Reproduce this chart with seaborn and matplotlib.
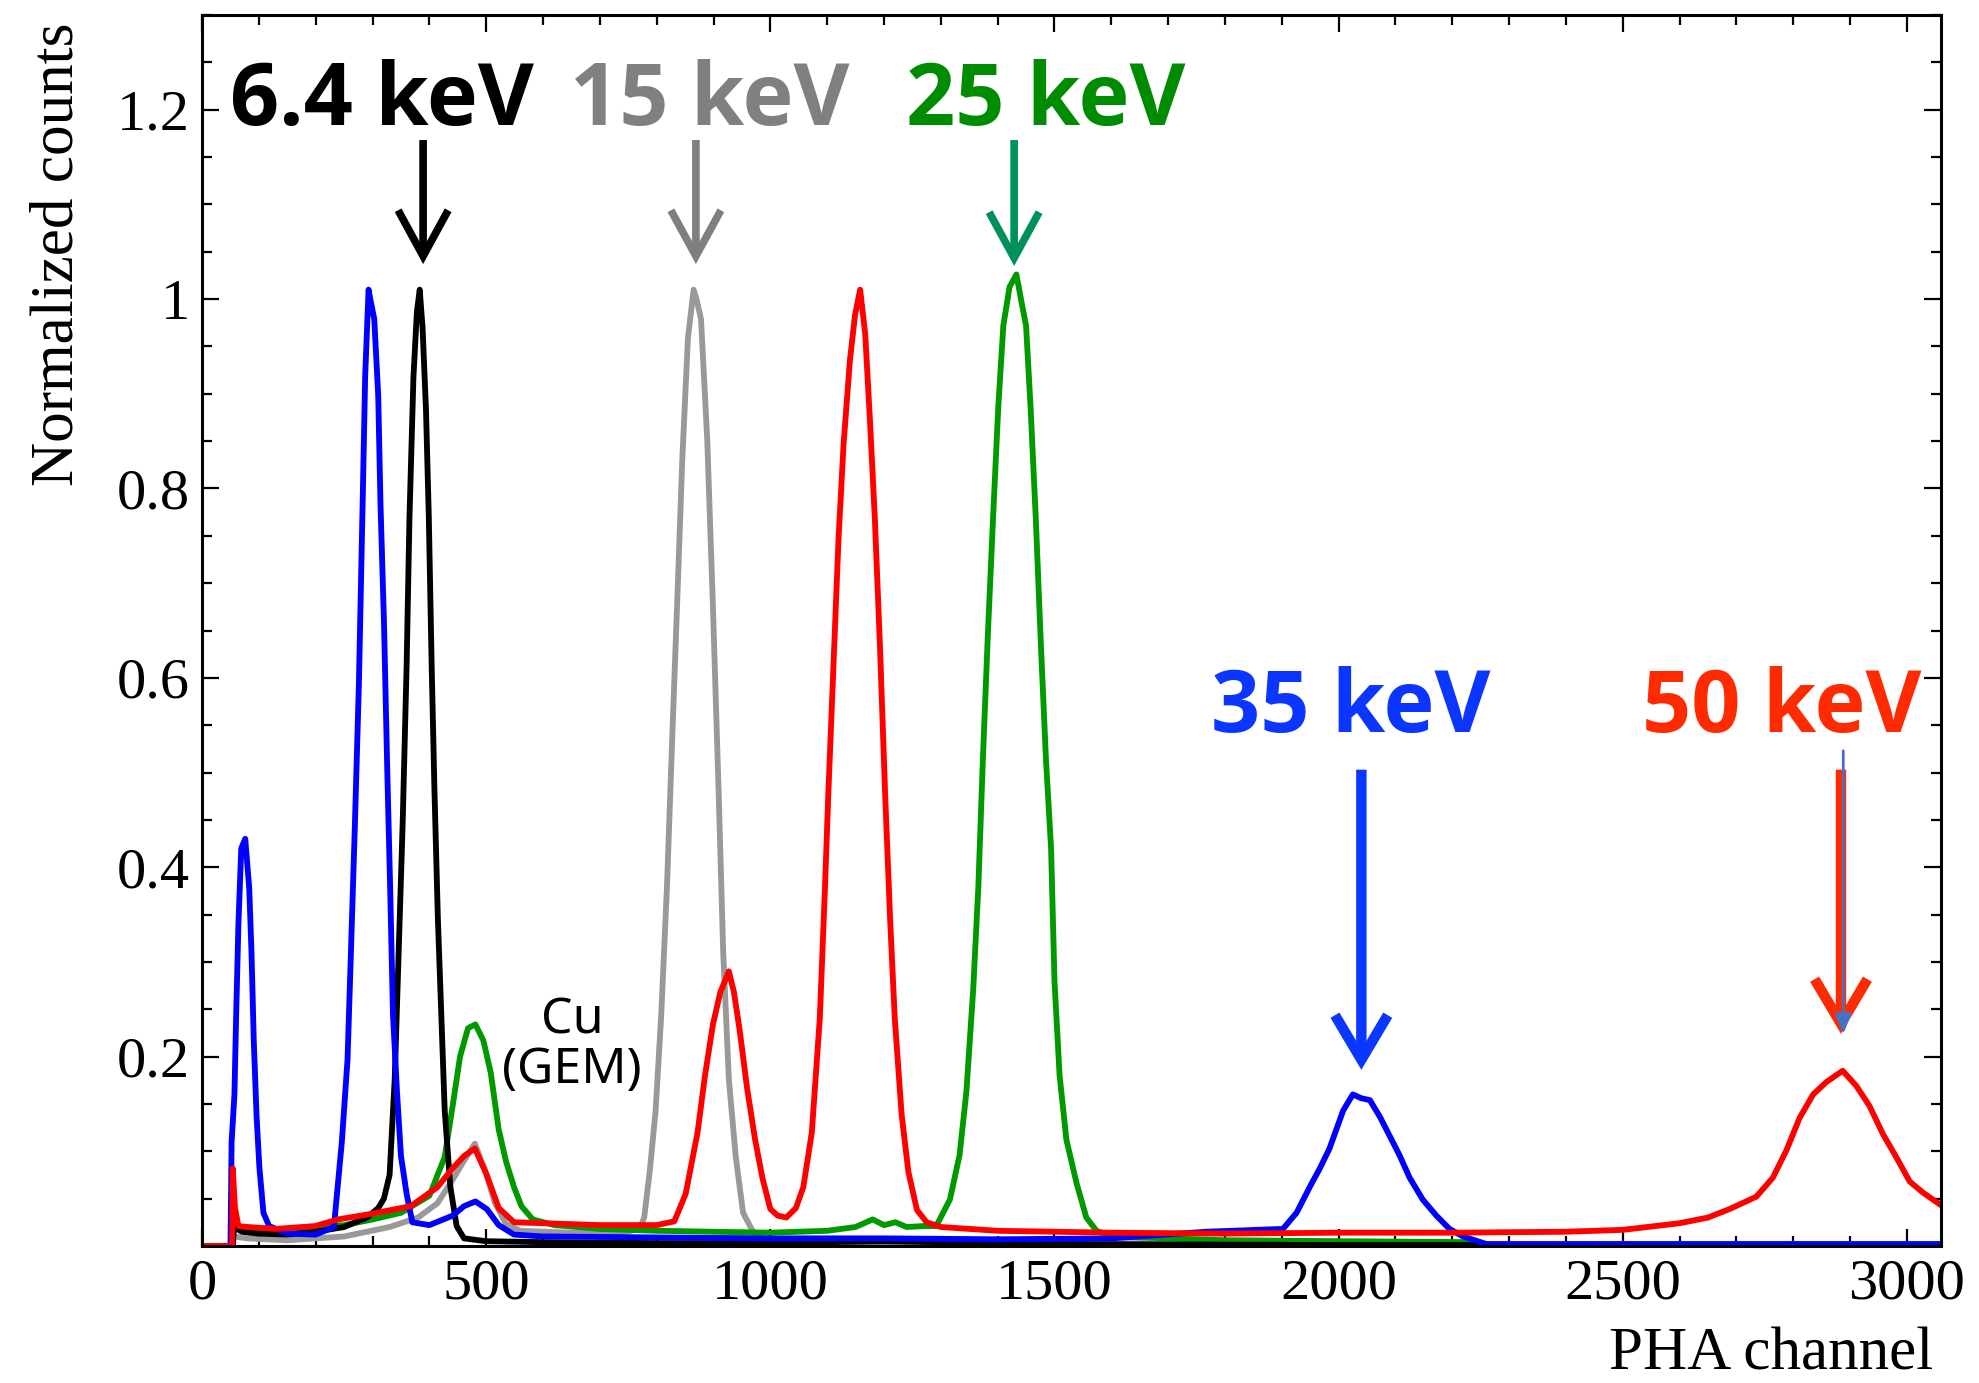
import matplotlib
matplotlib.use("Agg")
import matplotlib.pyplot as plt
from matplotlib.ticker import MultipleLocator
from matplotlib import font_manager
import numpy as np
import pandas as pd
import seaborn as sns

# ---------------- data ----------------
ch_64 = [0, 54, 56, 70, 100, 150, 200, 250, 290, 310, 320, 330, 339, 346, 353, 360, 365,
         372, 378, 383, 388, 394, 399, 404, 409, 415, 421, 427, 437, 448, 461, 500, 600,
         800, 1000, 1200, 1500, 2000, 3060]
val_64 = [0, 0, 0.02, 0.015, 0.013, 0.012, 0.015, 0.02, 0.03, 0.04, 0.05, 0.075, 0.176,
          0.311, 0.446, 0.614, 0.77, 0.918, 0.986, 1.01, 0.97, 0.884, 0.77, 0.614, 0.48,
          0.345, 0.244, 0.143, 0.062, 0.021, 0.008, 0.005, 0.004, 0.003, 0.003, 0.005,
          0.002, 0.001, 0.001]

ch_15 = [0, 54, 56, 80, 150, 250, 330, 380, 414, 441, 461, 480, 498, 515, 535, 560, 650,
         740, 770, 778, 788, 798, 808, 818, 828, 837, 845, 855, 865, 870, 878, 889, 899,
         909, 917, 927, 939, 952, 973, 1000, 1100, 1500, 2000, 3060]
val_15 = [0, 0, 0.01, 0.008, 0.006, 0.01, 0.02, 0.03, 0.045, 0.07, 0.09, 0.108, 0.08,
          0.046, 0.023, 0.016, 0.014, 0.014, 0.018, 0.03, 0.08, 0.142, 0.244, 0.378,
          0.547, 0.695, 0.83, 0.959, 1.01, 1.0, 0.979, 0.851, 0.675, 0.48, 0.311, 0.176,
          0.095, 0.035, 0.011, 0.006, 0.004, 0.003, 0.002, 0.002]

ch_25 = [0, 54, 56, 80, 150, 250, 300, 350, 400, 427, 441, 454, 468, 481, 495, 508, 522,
         535, 549, 562, 582, 620, 700, 800, 900, 1000, 1100, 1150, 1180, 1200, 1220, 1240,
         1270, 1292, 1316, 1333, 1345, 1357, 1366, 1374, 1383, 1392, 1401, 1410, 1421,
         1433, 1441, 1450, 1458, 1467, 1476, 1485, 1494, 1500, 1509, 1521, 1539, 1556,
         1574, 1600, 1800, 2000, 2240, 2250, 3060]
val_25 = [0, 0, 0.02, 0.018, 0.018, 0.022, 0.028, 0.035, 0.053, 0.094, 0.148, 0.2, 0.23,
          0.234, 0.217, 0.183, 0.123, 0.089, 0.062, 0.042, 0.028, 0.022, 0.018, 0.016,
          0.015, 0.014, 0.016, 0.02, 0.028, 0.022, 0.025, 0.02, 0.021, 0.021, 0.049,
          0.096, 0.163, 0.271, 0.379, 0.514, 0.649, 0.77, 0.885, 0.972, 1.013, 1.026,
          1.0, 0.972, 0.885, 0.77, 0.636, 0.514, 0.42, 0.28, 0.18, 0.112, 0.066, 0.03,
          0.016, 0.01, 0.006, 0.005, 0.004, 0.0, 0.0]

ch_35 = [0, 50, 52, 57, 60, 64, 69, 76, 83, 87, 91, 96, 101, 108, 118, 150, 200, 232, 246,
         256, 262, 269, 276, 283, 287, 293, 296, 303, 310, 314, 320, 326, 331, 336, 343,
         350, 360, 370, 400, 441, 461, 481, 501, 522, 549, 600, 800, 1000, 1200, 1400,
         1600, 1767, 1902, 1926, 1949, 1967, 1984, 1996, 2008, 2025, 2040, 2055, 2073,
         2090, 2107, 2125, 2148, 2172, 2195, 2219, 2260, 3060]
val_35 = [0, 0, 0.11, 0.16, 0.244, 0.34, 0.42, 0.43, 0.378, 0.31, 0.217, 0.136, 0.082,
          0.035, 0.021, 0.013, 0.012, 0.02, 0.11, 0.197, 0.311, 0.446, 0.594, 0.797,
          0.918, 1.01, 1.0, 0.979, 0.898, 0.783, 0.662, 0.5, 0.378, 0.244, 0.163, 0.095,
          0.055, 0.025, 0.022, 0.032, 0.042, 0.047, 0.039, 0.022, 0.012, 0.01, 0.009,
          0.008, 0.008, 0.007, 0.008, 0.015, 0.018, 0.035, 0.062, 0.082, 0.103, 0.123,
          0.143, 0.16, 0.156, 0.154, 0.136, 0.116, 0.096, 0.072, 0.049, 0.032, 0.018,
          0.01, 0.002, 0.002]

ch_50 = [0, 53, 54, 58, 64, 80, 131, 199, 239, 299, 367, 414, 441, 461, 480, 501, 522,
         549, 600, 700, 800, 831, 851, 872, 885, 899, 912, 927, 936, 946, 959, 973, 986,
         1000, 1013, 1028, 1045, 1058, 1073, 1087, 1096, 1102, 1111, 1120, 1129, 1140,
         1149, 1158, 1167, 1175, 1184, 1193, 1202, 1211, 1219, 1231, 1243, 1258, 1275,
         1300, 1400, 1600, 1800, 2000, 2200, 2400, 2500, 2600, 2650, 2688, 2735, 2764,
         2788, 2811, 2835, 2858, 2887, 2911, 2934, 2958, 2982, 3005, 3029, 3060]
val_50 = [0, 0, 0.082, 0.04, 0.021, 0.02, 0.018, 0.021, 0.028, 0.034, 0.042, 0.062,
          0.082, 0.095, 0.103, 0.075, 0.04, 0.025, 0.024, 0.022, 0.022, 0.026, 0.055,
          0.12, 0.18, 0.234, 0.268, 0.29, 0.268, 0.228, 0.167, 0.113, 0.072, 0.039,
          0.032, 0.03, 0.04, 0.062, 0.12, 0.24, 0.376, 0.477, 0.612, 0.747, 0.848,
          0.935, 0.983, 1.01, 0.963, 0.875, 0.767, 0.632, 0.477, 0.342, 0.24, 0.139,
          0.078, 0.038, 0.025, 0.02, 0.016, 0.014, 0.013, 0.014, 0.014, 0.015, 0.017,
          0.024, 0.03, 0.039, 0.052, 0.072, 0.101, 0.135, 0.16, 0.173, 0.185, 0.169,
          0.148, 0.118, 0.093, 0.068, 0.056, 0.043]

series_names = ["15 keV", "25 keV", "6.4 keV", "35 keV", "50 keV"]   # draw order
series_ch = [ch_15, ch_25, ch_64, ch_35, ch_50]
series_val = [val_15, val_25, val_64, val_35, val_50]
line_colors = ["#999999", "#009900", "#000000", "#0000ff", "#ff0000"]

# label annotations
label_text = ["6.4 keV", "15 keV", "25 keV", "35 keV", "50 keV"]
label_x = [316, 894, 1484, 2021, 2780]
label_y = [1.184, 1.184, 1.184, 0.543, 0.543]
label_colors = ["#000000", "#808080", "#008c00", "#0a36ff", "#ff2a00"]
arrow_x = [389, 869, 1429, 2040, 2884]
arrow_tail = [1.168, 1.168, 1.168, 0.503, 0.503]
arrow_tip = [1.037, 1.037, 1.035, 0.186, 0.224]
arrow_colors = ["#000000", "#7f7f7f", "#00905a", "#0a36ff", "#ff2a00"]

xticks = [0, 500, 1000, 1500, 2000, 2500, 3000]
yticks = [0.2, 0.4, 0.6, 0.8, 1.0, 1.2]
ytick_labels = ["0.2", "0.4", "0.6", "0.8", "1", "1.2"]

# ---------------- build figure ----------------
sns.set_style("ticks")
plt.rcParams["font.family"] = ["Liberation Serif", "DejaVu Serif"]
plt.rcParams["mathtext.fontset"] = "stix"
plt.rcParams["text.color"] = "black"


def pick_bold_family():
    for fam in ["Open Sans", "Noto Sans", "Lato", "Roboto"]:
        for f in font_manager.fontManager.ttflist:
            if f.name == fam and (f.weight in (700, "bold") or
                                  (isinstance(f.weight, int) and f.weight >= 600)):
                return fam
    return "DejaVu Sans"


bold_family = pick_bold_family()

df = pd.concat(
    [pd.DataFrame({"channel": c, "counts": v, "line": n})
     for n, c, v in zip(series_names, series_ch, series_val)],
    ignore_index=True)

fig = plt.figure(figsize=(19.79, 13.83), dpi=100)
ax = fig.add_axes([0.1021, 0.0991, 0.8787, 0.8900])

sns.lineplot(data=df, x="channel", y="counts", hue="line", hue_order=series_names,
             palette=dict(zip(series_names, line_colors)), estimator=None, sort=False,
             linewidth=4.2, legend=False, ax=ax)

ax.set_xlim(0, 3060)
ax.set_ylim(0, 1.3)
ax.set_xticks(xticks)
ax.set_xticklabels([str(t) for t in xticks])
ax.set_yticks(yticks)
ax.set_yticklabels(ytick_labels)
ax.xaxis.set_minor_locator(MultipleLocator(100))
ax.yaxis.set_minor_locator(MultipleLocator(0.05))
ax.tick_params(which="both", direction="in", top=True, right=True, width=1.6,
               colors="black", labelcolor="black", labelsize=42)
ax.tick_params(which="major", length=12)
ax.tick_params(which="minor", length=7.5)
ax.tick_params(axis="x", which="major", pad=9)
ax.tick_params(axis="y", which="major", pad=9)
for s in ax.spines.values():
    s.set_linewidth(2.2)
    s.set_color("black")
ax.set_xlabel("")
ax.set_ylabel("")

ax.text(-0.0828, 0.994, "Normalized counts", rotation=90, ha="center", va="top",
        transform=ax.transAxes, fontsize=44, color="black")
ax.text(0.9954, -0.100, "PHA channel", ha="right", va="baseline",
        transform=ax.transAxes, fontsize=44, color="black")

# energy labels and arrows
for t, x, y, c in zip(label_text, label_x, label_y, label_colors):
    ax.text(x, y, t, color=c, ha="center", va="baseline", fontsize=62,
            fontweight="bold", family=[bold_family, "DejaVu Sans"])

for i, (x, y0, y1, c) in enumerate(zip(arrow_x, arrow_tail, arrow_tip, arrow_colors)):
    big = i >= 3
    hl = 32 if big else 33
    hw = 19 if big else 18
    lw = 7.5 if big else 5.5
    ax.annotate("", xy=(x, y1), xytext=(x, y0),
                arrowprops=dict(arrowstyle=f"->,head_length={hl},head_width={hw}",
                                color=c, lw=lw, shrinkA=0, shrinkB=0,
                                mutation_scale=1, joinstyle="miter", capstyle="butt"))

# thin blue overlay line on the 50 keV arrow
ax.annotate("", xy=(arrow_x[4] + 4, arrow_tip[4]), xytext=(arrow_x[4] + 4, arrow_tail[4] + 0.02),
            arrowprops=dict(arrowstyle="-|>,head_length=12,head_width=5",
                            color="#4472c4", lw=2, shrinkA=0, shrinkB=0, mutation_scale=1))

ax.text(651, 0.212, "Cu\n(GEM)", ha="center", va="center", multialignment="center",
        fontsize=36, linespacing=1.0, color="black", family=["Noto Sans", "DejaVu Sans"])

fig.savefig("out.png", dpi=100)
